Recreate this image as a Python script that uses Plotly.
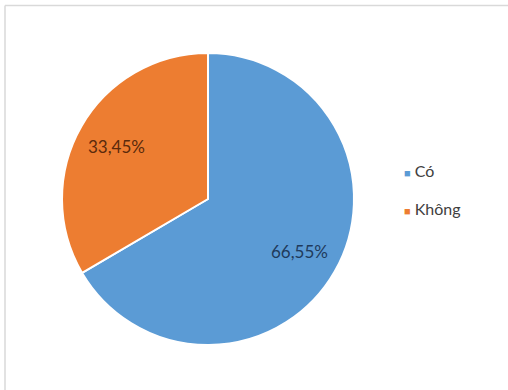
import math
import plotly.graph_objects as go

# --- Data ---
labels = ["Có", "Không"]
values = [66.55, 33.45]
colors = ["#5B9BD5", "#ED7D31"]
text_colors = ["#1F3A5C", "#5A2A0C"]

W, H = 508, 390
cx, cy, r = 208, 199, 146
label_r = 105

fig = go.Figure()

fig.add_trace(go.Pie(
    labels=labels, values=values,
    sort=False, direction="clockwise", rotation=0,
    marker=dict(colors=colors, line=dict(color="white", width=2)),
    textinfo="none",
    showlegend=False,
    hoverinfo="skip",
    domain=dict(x=[(cx - r) / W, (cx + r) / W], y=[1 - (cy + r) / H, 1 - (cy - r) / H]),
))

annotations = []

# --- Percentage labels, placed on each slice's bisector ---
total = sum(values)
cum = 0
for v, tc in zip(values, text_colors):
    mid = (cum + v / 2) / total * 2 * math.pi
    cum += v
    px = cx + label_r * math.sin(mid)
    py = cy - label_r * math.cos(mid)
    pct = f"{v / total * 100:.2f}".replace(".", ",") + "%"
    annotations.append(dict(
        x=px / W, y=1 - py / H, xref="paper", yref="paper",
        xanchor="center", yanchor="middle", showarrow=False,
        text=pct, font=dict(family="Lato", size=17, color=tc),
    ))

# --- Legend drawn as annotations ---
for i, (lab, col) in enumerate(zip(labels, colors)):
    y = 170 + i * 38
    annotations.append(dict(
        x=402 / W, y=1 - y / H, xref="paper", yref="paper",
        xanchor="left", yanchor="middle", showarrow=False,
        text=f"<span style='color:{col};font-size:11px'>■</span> {lab}",
        font=dict(family="Lato", size=16, color="#404040"),
    ))

# frame lines (top and left) like the cropped chart border
shapes = [
    dict(type="line", xref="paper", yref="paper", x0=5 / W, x1=1, y0=1 - 5.5 / H, y1=1 - 5.5 / H,
         line=dict(color="#D9D9D9", width=1.5)),
    dict(type="line", xref="paper", yref="paper", x0=5 / W, x1=5 / W, y0=0, y1=1 - 5.5 / H,
         line=dict(color="#D9D9D9", width=1.5)),
]

fig.update_layout(
    width=W, height=H,
    margin=dict(l=0, r=0, t=0, b=0),
    paper_bgcolor="white",
    separators=",.",
    annotations=annotations,
    shapes=shapes,
)

fig.write_html("out.html", config={"displayModeBar": False},
               post_script="document.body.style.margin='0';")
